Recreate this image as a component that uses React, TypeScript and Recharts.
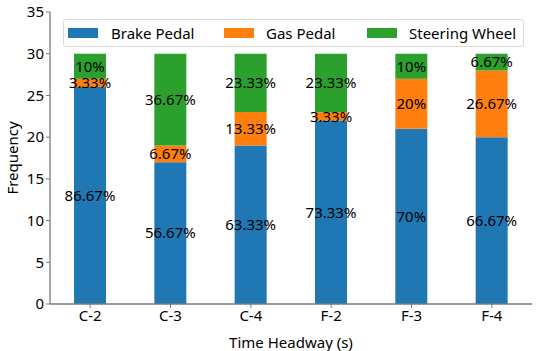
import { Bar, BarChart, LabelList, XAxis, YAxis } from "recharts";

const categories = ["C-2", "C-3", "C-4", "F-2", "F-3", "F-4"];
const brakePedal = [26, 17, 19, 22, 21, 20];
const gasPedal = [1, 2, 4, 1, 6, 8];
const steeringWheel = [3, 11, 7, 7, 3, 2];
const yTicks = [0, 5, 10, 15, 20, 25, 30, 35];

const SERIES = [
  { key: "brake", name: "Brake Pedal", color: "#1f77b4" },
  { key: "gas", name: "Gas Pedal", color: "#ff7f0e" },
  { key: "steer", name: "Steering Wheel", color: "#2ca02c" },
];

const data = categories.map((cat, i) => ({
  cat,
  brake: brakePedal[i],
  gas: gasPedal[i],
  steer: steeringWheel[i],
  total: brakePedal[i] + gasPedal[i] + steeringWheel[i],
}));

const FONT = "'Noto Sans', 'DejaVu Sans', sans-serif";
const FS = 15;
const SPINE = "#7a7a7a";

// percent of the bar's total, e.g. 86.67%, 10%
const pct = (v: number, total: number) => `${+((v / total) * 100).toFixed(2)}%`;

function LegendBox() {
  const items = [
    { ...SERIES[0], sw: 68, tx: 111 },
    { ...SERIES[1], sw: 224, tx: 266 },
    { ...SERIES[2], sw: 367, tx: 409 },
  ];
  return (
    <div
      style={{
        position: "absolute",
        left: 63,
        top: 19,
        width: 461,
        height: 28,
        border: "1px solid #d9d9d9",
        borderRadius: 3,
        background: "rgba(255,255,255,0.85)",
        boxSizing: "border-box",
        fontFamily: FONT,
        fontSize: FS,
        color: "#000",
      }}
    >
      {items.map((it) => (
        <div key={it.key}>
          <div
            style={{
              position: "absolute",
              left: it.sw - 64,
              top: 8,
              width: 30,
              height: 10,
              background: it.color,
            }}
          />
          <div style={{ position: "absolute", left: it.tx - 64, top: 2, lineHeight: "22px" }}>
            {it.name}
          </div>
        </div>
      ))}
    </div>
  );
}

export default function App() {
  return (
    <div style={{ position: "absolute", left: 0, top: 0, width: 550, height: 351, background: "#fff" }}>
      <BarChart
        width={550}
        height={351}
        data={data}
        margin={{ top: 12, right: 18, bottom: 0, left: 0 }}
        barSize={32}
      >
        <XAxis
          dataKey="cat"
          tick={{ fill: "#000", fontSize: FS, fontFamily: FONT }}
          tickLine={{ stroke: SPINE }}
          tickSize={4}
          axisLine={{ stroke: SPINE, strokeWidth: 1.3 }}
          height={47}
          label={{
            value: "Time Headway (s)",
            position: "insideBottom",
            offset: 3,
            fill: "#000",
            fontSize: FS,
            fontFamily: FONT,
          }}
        />
        <XAxis
          xAxisId="top"
          dataKey="cat"
          orientation="top"
          tick={false}
          tickLine={false}
          height={0}
          axisLine={{ stroke: SPINE, strokeWidth: 1.3 }}
        />
        <YAxis
          domain={[0, 35]}
          ticks={yTicks}
          interval={0}
          width={50}
          tick={{ fill: "#000", fontSize: FS, fontFamily: FONT }}
          tickLine={{ stroke: SPINE }}
          tickSize={4}
          axisLine={{ stroke: SPINE, strokeWidth: 1.3 }}
          label={{
            value: "Frequency",
            angle: -90,
            position: "insideLeft",
            offset: 13,
            style: { textAnchor: "middle" },
            fill: "#000",
            fontSize: FS,
            fontFamily: FONT,
          }}
        />
        <YAxis
          yAxisId="right"
          orientation="right"
          domain={[0, 35]}
          tick={false}
          tickLine={false}
          width={0}
          axisLine={{ stroke: SPINE, strokeWidth: 1.3 }}
        />
        {SERIES.map((s) => (
          <Bar key={s.key} dataKey={s.key} name={s.name} stackId="a" fill={s.color} isAnimationActive={false}>
            <LabelList
              dataKey={(d: any) => pct(d[s.key], d.total)}
              position="center"
              fill="#000"
              fontSize={FS}
              fontFamily={FONT}
            />
          </Bar>
        ))}
      </BarChart>
      <LegendBox />
    </div>
  );
}
